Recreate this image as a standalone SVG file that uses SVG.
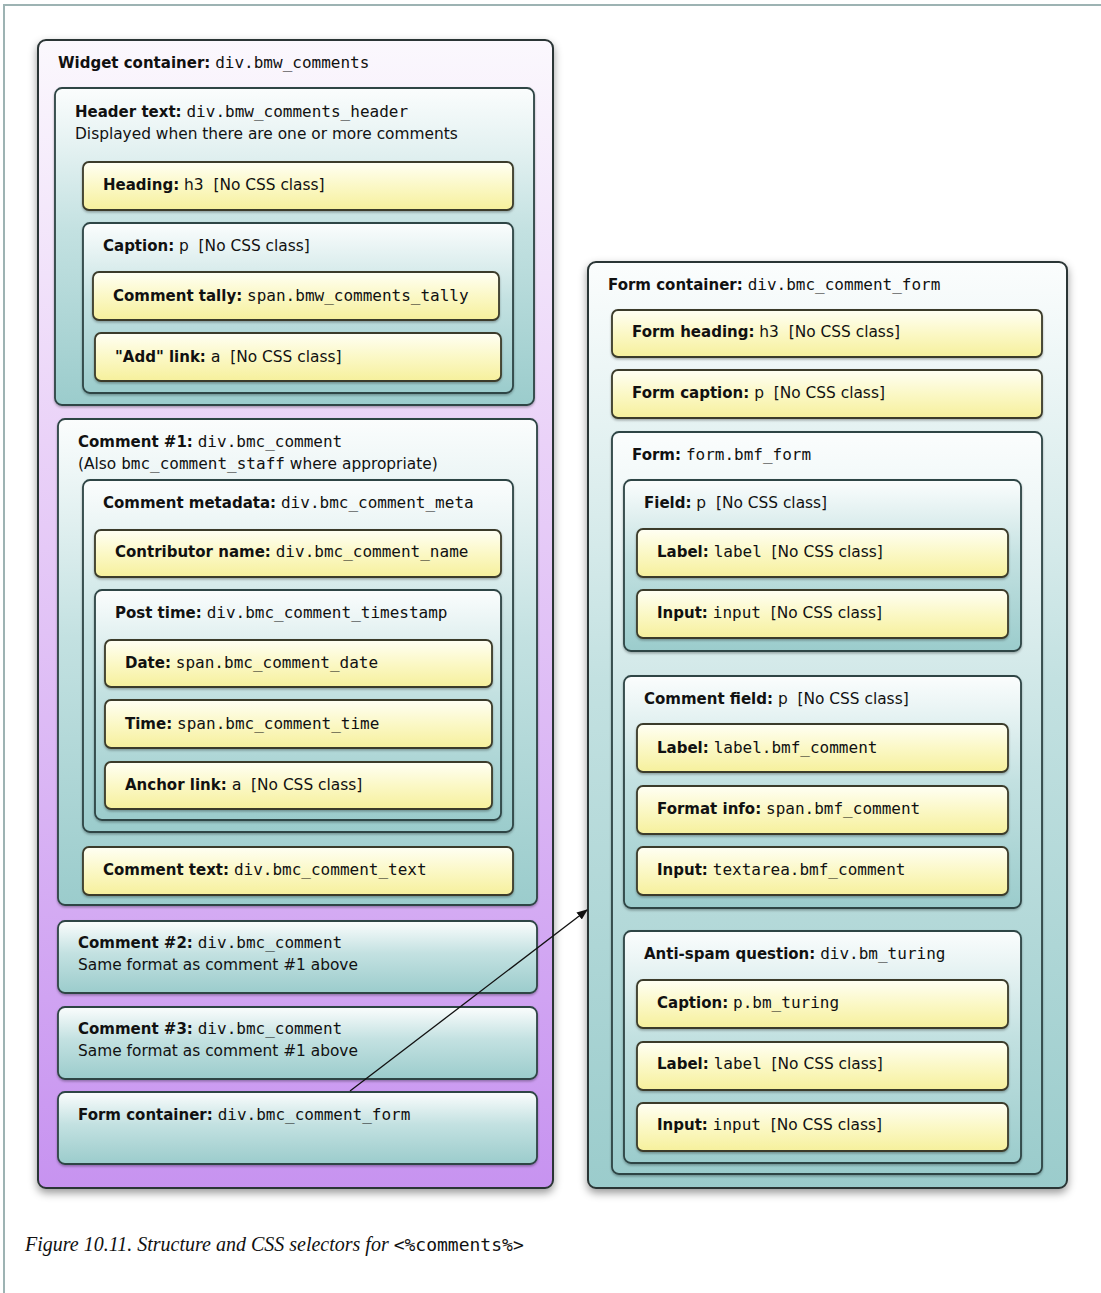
<svg xmlns="http://www.w3.org/2000/svg" width="1101" height="1293" viewBox="0 0 1101 1293">
  <defs>
    <linearGradient id="gPurple" x1="0" y1="0" x2="0" y2="1">
      <stop offset="0" stop-color="#fbf8fd"/>
      <stop offset="0.35" stop-color="#ead2f8"/>
      <stop offset="1" stop-color="#c793f0"/>
    </linearGradient>
    <linearGradient id="gTeal" x1="0" y1="0" x2="0" y2="1">
      <stop offset="0" stop-color="#fbfdfd"/>
      <stop offset="0.45" stop-color="#c3e1e1"/>
      <stop offset="1" stop-color="#9bcccc"/>
    </linearGradient>
    <linearGradient id="gYellow" x1="0" y1="0" x2="0" y2="1">
      <stop offset="0" stop-color="#fffff4"/>
      <stop offset="0.5" stop-color="#fbf8c6"/>
      <stop offset="1" stop-color="#f6f09c"/>
    </linearGradient>
    <filter id="shOuter" x="-5%" y="-5%" width="110%" height="110%">
      <feDropShadow dx="0" dy="4" stdDeviation="4" flood-color="#000" flood-opacity="0.4"/>
    </filter>
    <filter id="shInner" x="-5%" y="-10%" width="110%" height="130%">
      <feDropShadow dx="0" dy="1.5" stdDeviation="1.2" flood-color="#000" flood-opacity="0.3"/>
    </filter>
    <marker id="arrow" viewBox="0 0 10 10" refX="9" refY="5" markerWidth="11" markerHeight="11" orient="auto" markerUnits="userSpaceOnUse">
      <path d="M0,1 L10,5 L0,9 Z" fill="#111"/>
    </marker>
  </defs>
  <style>
    .outer { stroke: #2b3535; stroke-width: 2; filter: url(#shOuter); }
    .box { stroke: #2e4444; stroke-width: 1.8; filter: url(#shInner); }
    .purple { fill: url(#gPurple); }
    .teal { fill: url(#gTeal); }
    .yellow { fill: url(#gYellow); stroke: #3b3b2a; }
    text { font-family: "DejaVu Sans", "Liberation Sans", sans-serif; font-size: 15.4px; fill: #111; white-space: pre; }
    .b { font-weight: bold; font-size: 15px; }
    .m { font-family: "DejaVu Sans Mono", "Liberation Mono", monospace; font-size: 16px; }
    .cap { font-family: "Liberation Serif", serif; font-style: italic; font-size: 20px; }
    .capm { font-family: "DejaVu Sans Mono", "Liberation Mono", monospace; font-size: 18px; font-style: normal; }
    .frame { stroke: #9db3b3; stroke-width: 2; fill: none; }
    .link { stroke: #111; stroke-width: 1.3; fill: none; }
  </style>

  <rect width="1101" height="1293" fill="#ffffff"/>
  <!-- page frame -->
  <path class="frame" d="M4,1293 V5 H1101"/>

  <!-- ===== Left column: widget container ===== -->
  <g id="widget-container">
    <rect class="outer purple" x="38" y="40" width="515" height="1148" rx="8"/>
    <text x="58" y="68"><tspan class="b">Widget container:</tspan> <tspan class="m">div.bmw_comments</tspan></text>
  </g>

  <g id="header-text">
    <rect class="box teal" x="55" y="88" width="479" height="317" rx="7"/>
    <text x="75" y="117"><tspan class="b">Header text:</tspan> <tspan class="m">div.bmw_comments_header</tspan></text>
    <text x="75" y="139">Displayed when there are one or more comments</text>
  </g>

  <g id="heading">
    <rect class="box yellow" x="83" y="162" width="430" height="48" rx="6"/>
    <text x="103" y="190"><tspan class="b">Heading:</tspan> h3  [No CSS class]</text>
  </g>

  <g id="caption">
    <rect class="box teal" x="83" y="223" width="430" height="170" rx="7"/>
    <text x="103" y="251"><tspan class="b">Caption:</tspan> p  [No CSS class]</text>
  </g>

  <g id="comment-tally">
    <rect class="box yellow" x="93" y="272" width="406" height="48" rx="6"/>
    <text x="113" y="301"><tspan class="b">Comment tally:</tspan> <tspan class="m">span.bmw_comments_tally</tspan></text>
  </g>

  <g id="add-link">
    <rect class="box yellow" x="95" y="333" width="406" height="48" rx="6"/>
    <text x="115" y="362"><tspan class="b">"Add" link:</tspan> <tspan class="m">a</tspan>  [No CSS class]</text>
  </g>

  <g id="comment-1">
    <rect class="box teal" x="58" y="419" width="479" height="486" rx="7"/>
    <text x="78" y="447"><tspan class="b">Comment #1:</tspan> <tspan class="m">div.bmc_comment</tspan></text>
    <text x="78" y="469">(Also <tspan class="m">bmc_comment_staff</tspan> where appropriate)</text>
  </g>

  <g id="comment-metadata">
    <rect class="box teal" x="83" y="480" width="430" height="352" rx="7"/>
    <text x="103" y="508"><tspan class="b">Comment metadata:</tspan> <tspan class="m">div.bmc_comment_meta</tspan></text>
  </g>

  <g id="contributor-name">
    <rect class="box yellow" x="95" y="530" width="406" height="47" rx="6"/>
    <text x="115" y="557"><tspan class="b">Contributor name:</tspan> <tspan class="m">div.bmc_comment_name</tspan></text>
  </g>

  <g id="post-time">
    <rect class="box teal" x="95" y="590" width="406" height="230" rx="7"/>
    <text x="115" y="618"><tspan class="b">Post time:</tspan> <tspan class="m">div.bmc_comment_timestamp</tspan></text>
  </g>

  <g id="date">
    <rect class="box yellow" x="105" y="640" width="387" height="47" rx="6"/>
    <text x="125" y="668"><tspan class="b">Date:</tspan> <tspan class="m">span.bmc_comment_date</tspan></text>
  </g>

  <g id="time">
    <rect class="box yellow" x="105" y="700" width="387" height="48" rx="6"/>
    <text x="125" y="729"><tspan class="b">Time:</tspan> <tspan class="m">span.bmc_comment_time</tspan></text>
  </g>

  <g id="anchor-link">
    <rect class="box yellow" x="105" y="762" width="387" height="47" rx="6"/>
    <text x="125" y="790"><tspan class="b">Anchor link:</tspan> <tspan class="m">a</tspan>  [No CSS class]</text>
  </g>

  <g id="comment-text">
    <rect class="box yellow" x="83" y="847" width="430" height="48" rx="6"/>
    <text x="103" y="875"><tspan class="b">Comment text:</tspan> <tspan class="m">div.bmc_comment_text</tspan></text>
  </g>

  <g id="comment-2">
    <rect class="box teal" x="58" y="921" width="479" height="72" rx="7"/>
    <text x="78" y="948"><tspan class="b">Comment #2:</tspan> <tspan class="m">div.bmc_comment</tspan></text>
    <text x="78" y="970">Same format as comment #1 above</text>
  </g>

  <g id="comment-3">
    <rect class="box teal" x="58" y="1007" width="479" height="72" rx="7"/>
    <text x="78" y="1034"><tspan class="b">Comment #3:</tspan> <tspan class="m">div.bmc_comment</tspan></text>
    <text x="78" y="1056">Same format as comment #1 above</text>
  </g>

  <g id="form-container-ref">
    <rect class="box teal" x="58" y="1092" width="479" height="72" rx="7"/>
    <text x="78" y="1120"><tspan class="b">Form container:</tspan> <tspan class="m">div.bmc_comment_form</tspan></text>
  </g>

  <!-- ===== Right column: form container ===== -->
  <g id="form-container">
    <rect class="outer teal" x="588" y="262" width="479" height="926" rx="8"/>
    <text x="608" y="290"><tspan class="b">Form container:</tspan> <tspan class="m">div.bmc_comment_form</tspan></text>
  </g>

  <g id="form-heading">
    <rect class="box yellow" x="612" y="310" width="430" height="47" rx="6"/>
    <text x="632" y="337"><tspan class="b">Form heading:</tspan> h3  [No CSS class]</text>
  </g>

  <g id="form-caption">
    <rect class="box yellow" x="612" y="370" width="430" height="48" rx="6"/>
    <text x="632" y="398"><tspan class="b">Form caption:</tspan> p  [No CSS class]</text>
  </g>

  <g id="form">
    <rect class="box teal" x="612" y="432" width="430" height="742" rx="7"/>
    <text x="632" y="460"><tspan class="b">Form:</tspan> <tspan class="m">form.bmf_form</tspan></text>
  </g>

  <g id="field">
    <rect class="box teal" x="624" y="480" width="397" height="171" rx="7"/>
    <text x="644" y="508"><tspan class="b">Field:</tspan> p  [No CSS class]</text>
  </g>

  <g id="field-label">
    <rect class="box yellow" x="637" y="529" width="371" height="48" rx="6"/>
    <text x="657" y="557"><tspan class="b">Label:</tspan> <tspan class="m">label</tspan>  [No CSS class]</text>
  </g>

  <g id="field-input">
    <rect class="box yellow" x="637" y="590" width="371" height="48" rx="6"/>
    <text x="657" y="618"><tspan class="b">Input:</tspan> <tspan class="m">input</tspan>  [No CSS class]</text>
  </g>

  <g id="comment-field">
    <rect class="box teal" x="624" y="676" width="397" height="232" rx="7"/>
    <text x="644" y="704"><tspan class="b">Comment field:</tspan> p  [No CSS class]</text>
  </g>

  <g id="comment-label">
    <rect class="box yellow" x="637" y="724" width="371" height="48" rx="6"/>
    <text x="657" y="753"><tspan class="b">Label:</tspan> <tspan class="m">label.bmf_comment</tspan></text>
  </g>

  <g id="format-info">
    <rect class="box yellow" x="637" y="786" width="371" height="48" rx="6"/>
    <text x="657" y="814"><tspan class="b">Format info:</tspan> <tspan class="m">span.bmf_comment</tspan></text>
  </g>

  <g id="comment-input">
    <rect class="box yellow" x="637" y="847" width="371" height="48" rx="6"/>
    <text x="657" y="875"><tspan class="b">Input:</tspan> <tspan class="m">textarea.bmf_comment</tspan></text>
  </g>

  <g id="anti-spam">
    <rect class="box teal" x="624" y="931" width="397" height="232" rx="7"/>
    <text x="644" y="959"><tspan class="b">Anti-spam question:</tspan> <tspan class="m">div.bm_turing</tspan></text>
  </g>

  <g id="turing-caption">
    <rect class="box yellow" x="637" y="980" width="371" height="48" rx="6"/>
    <text x="657" y="1008"><tspan class="b">Caption:</tspan> <tspan class="m">p.bm_turing</tspan></text>
  </g>

  <g id="turing-label">
    <rect class="box yellow" x="637" y="1042" width="371" height="48" rx="6"/>
    <text x="657" y="1069"><tspan class="b">Label:</tspan> <tspan class="m">label</tspan>  [No CSS class]</text>
  </g>

  <g id="turing-input">
    <rect class="box yellow" x="637" y="1103" width="371" height="48" rx="6"/>
    <text x="657" y="1130"><tspan class="b">Input:</tspan> <tspan class="m">input</tspan>  [No CSS class]</text>
  </g>

  <!-- connector: form placeholder expands into the detail panel -->
  <g id="connectors">
    <line class="link" x1="350" y1="1091" x2="587" y2="910" marker-end="url(#arrow)"/>
  </g>

  <!-- figure caption -->
  <text class="cap" x="25" y="1251">Figure 10.11. Structure and CSS selectors for <tspan class="capm">&lt;%comments%&gt;</tspan></text>
</svg>
